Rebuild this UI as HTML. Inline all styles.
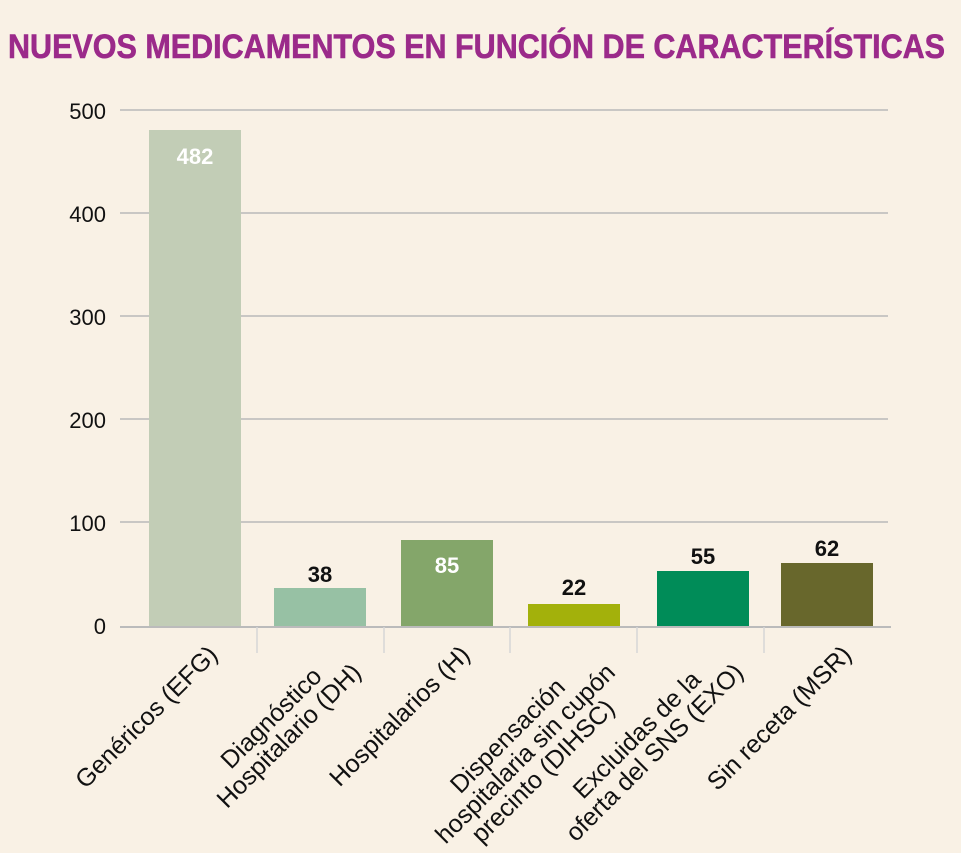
<!DOCTYPE html>
<html style="overflow:hidden"><head><meta charset="utf-8"><style>
html,body{margin:0;width:961px;height:853px;overflow:hidden}
body{background:#f9f1e5;position:relative;font-family:"Liberation Sans",sans-serif}
.lab{position:absolute;top:642px;transform-origin:100% 0;transform:rotate(-45deg);text-align:center;font-size:25px;line-height:25px;color:#111;white-space:nowrap}
</style></head><body>
<svg width="961" height="853" style="position:absolute;left:0;top:0">
<text x="8" y="58" textLength="937" lengthAdjust="spacingAndGlyphs" font-family="Liberation Sans Narrow, Liberation Sans, sans-serif" font-weight="bold" font-size="34" fill="#9b2a8a" stroke="#9b2a8a" stroke-width="0.6">NUEVOS MEDICAMENTOS EN FUNCIÓN DE CARACTERÍSTICAS</text>
<g stroke="#b9b9b9" stroke-width="1.5">
<line x1="120" x2="888" y1="110" y2="110"/><line x1="120" x2="888" y1="213" y2="213"/>
<line x1="120" x2="888" y1="316" y2="316"/><line x1="120" x2="888" y1="419" y2="419"/>
<line x1="120" x2="888" y1="522" y2="522"/>
</g>
<g font-size="22" fill="#111" text-anchor="end" font-family="Liberation Sans, sans-serif">
<text x="106" y="119">500</text><text x="106" y="222">400</text><text x="106" y="325">300</text>
<text x="106" y="428">200</text><text x="106" y="531">100</text><text x="106" y="634">0</text>
</g>
<rect x="149" y="130" width="92" height="497" fill="#c2cdb6"/>
<rect x="274" y="588" width="92" height="39" fill="#97c1a4"/>
<rect x="401" y="540" width="92" height="87" fill="#84a66a"/>
<rect x="528" y="604" width="92" height="23" fill="#a3b10b"/>
<rect x="657" y="571" width="92" height="56" fill="#008c58"/>
<rect x="781" y="563" width="92" height="64" fill="#68672c"/>
<line x1="120" x2="891" y1="627" y2="627" stroke="#bbb" stroke-width="2"/>
<g stroke="#d6d6d6" stroke-width="1.5">
<line x1="257" x2="257" y1="627" y2="653"/><line x1="384" x2="384" y1="627" y2="653"/>
<line x1="510" x2="510" y1="627" y2="653"/><line x1="637" x2="637" y1="627" y2="653"/>
<line x1="764" x2="764" y1="627" y2="653"/>
</g>
<g font-size="22" font-weight="bold" text-anchor="middle" font-family="Liberation Sans, sans-serif">
<text x="195" y="164" fill="#fff">482</text>
<text x="320" y="582" fill="#111">38</text>
<text x="447" y="573" fill="#fff">85</text>
<text x="574" y="595" fill="#111">22</text>
<text x="703" y="564" fill="#111">55</text>
<text x="827" y="556" fill="#111">62</text>
</g>
</svg>
<div class="lab" style="right:756px">Genéricos (EFG)</div>
<div class="lab" style="right:630px">Diagnóstico<br>Hospitalario (DH)</div>
<div class="lab" style="right:504px">Hospitalarios (H)</div>
<div class="lab" style="right:376px">Dispensación<br>hospitalaria sin cupón<br>precinto (DIHSC)</div>
<div class="lab" style="right:248px">Excluidas de la<br>oferta del SNS (EXO)</div>
<div class="lab" style="right:122px">Sin receta (MSR)</div>
</body></html>
